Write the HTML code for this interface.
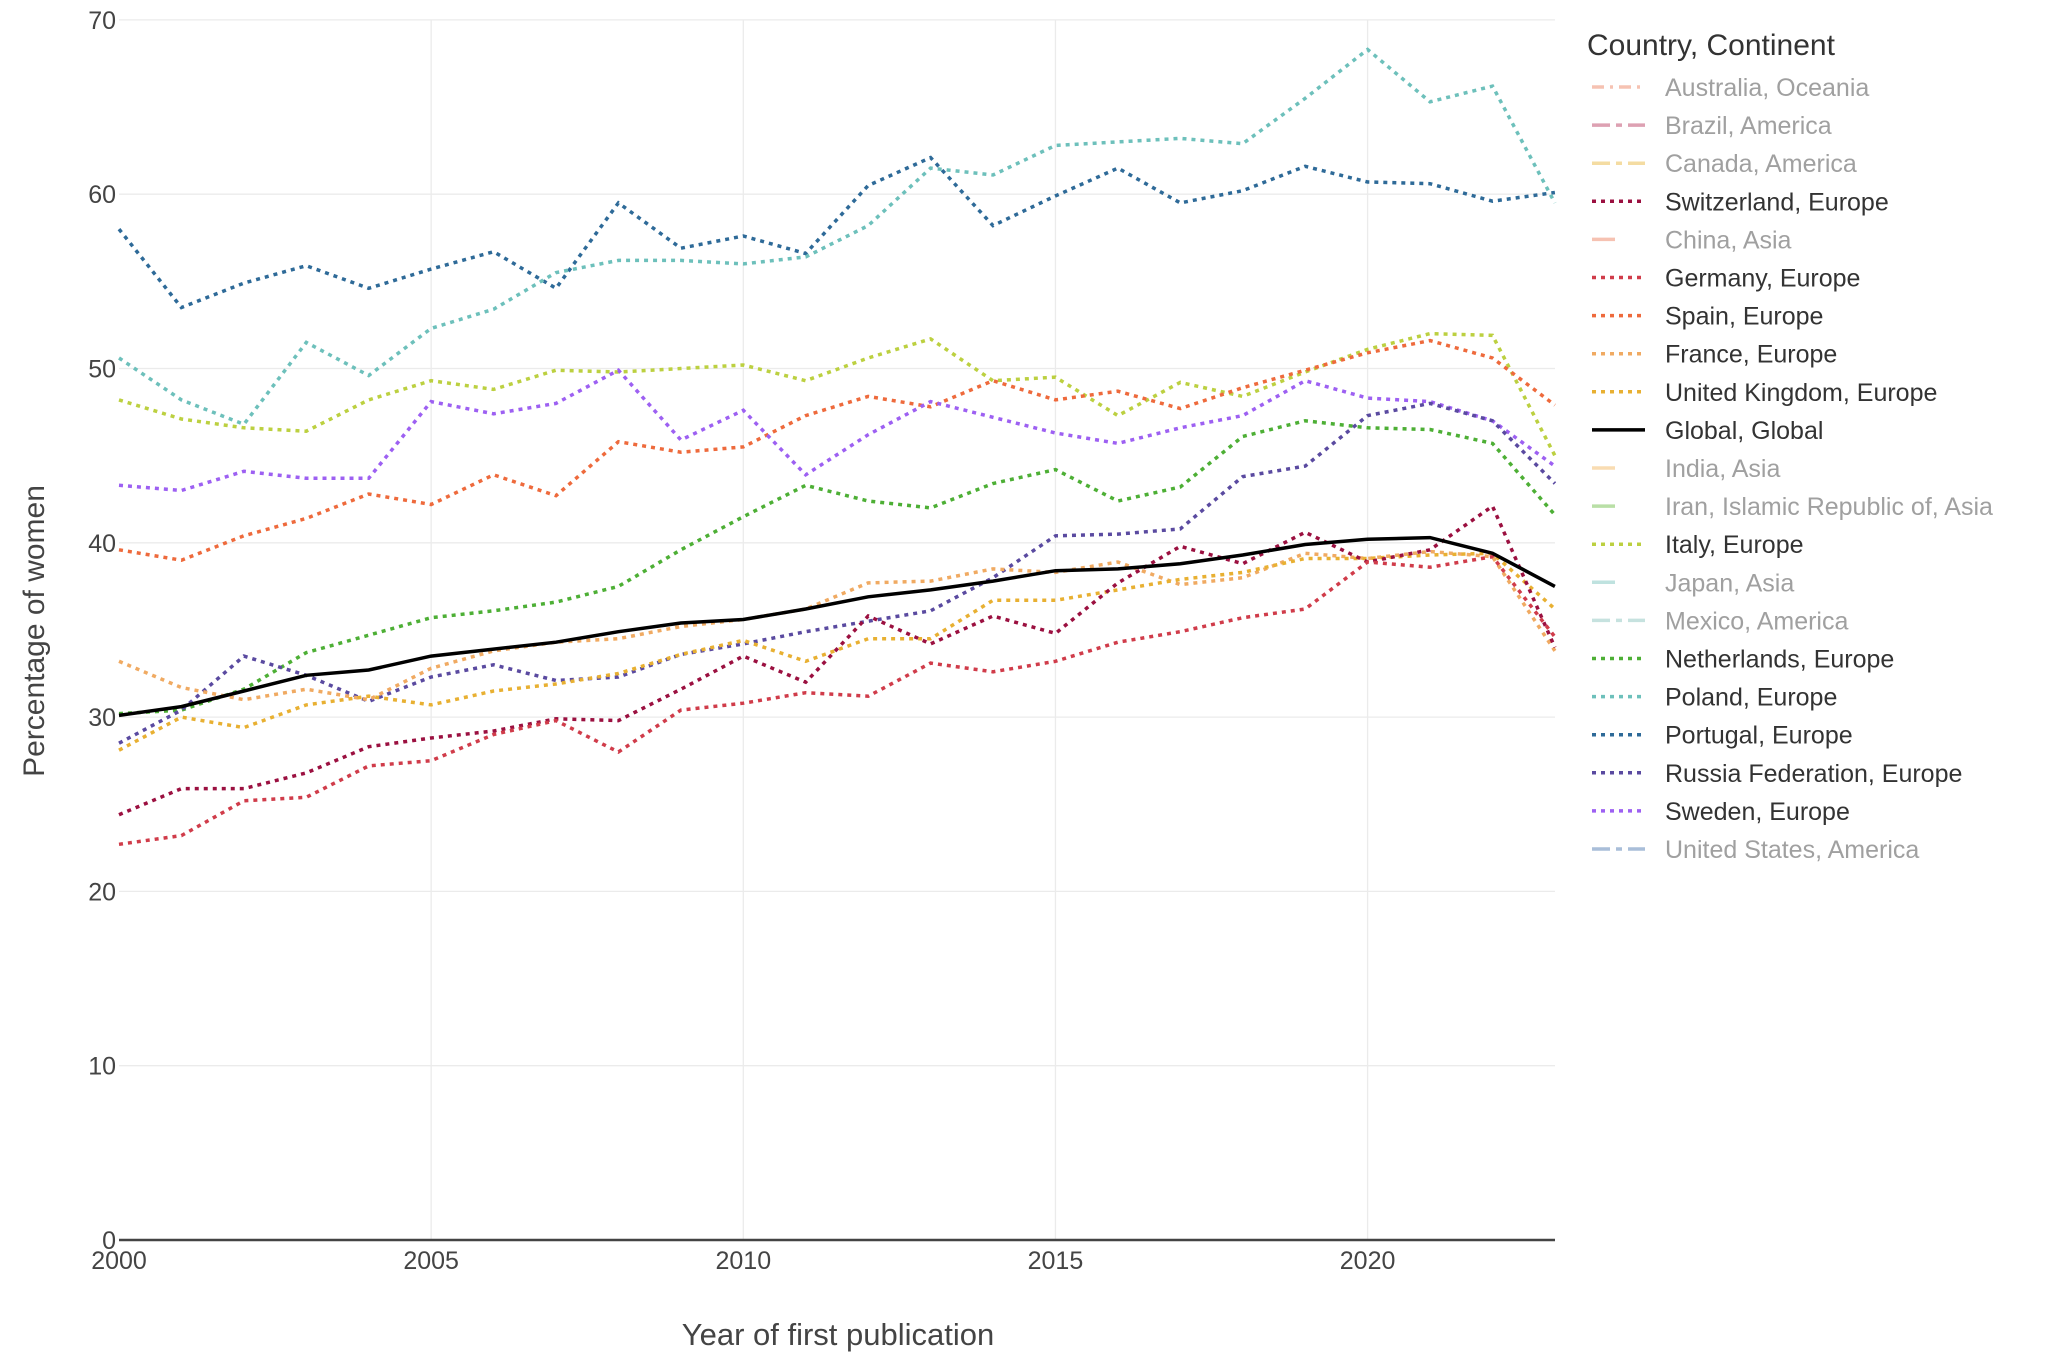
<!DOCTYPE html>
<html><head><meta charset="utf-8"><style>
body{margin:0;background:#fff;}
svg text{font-family:"Liberation Sans","DejaVu Sans",sans-serif;}
</style></head><body>
<svg id="s" width="2066" height="1358" xmlns="http://www.w3.org/2000/svg">
<g id="grid" stroke="#ebebeb" stroke-width="1.3"></g>
<g id="yt" font-size="25" fill="#444" text-anchor="end"></g>
<g id="xt" font-size="25" fill="#444" text-anchor="middle"></g>
<text x="838" y="1345" font-size="31" fill="#444" text-anchor="middle">Year of first publication</text>
<text transform="translate(44,631) rotate(-90)" font-size="30" fill="#444" text-anchor="middle">Percentage of women</text>
<g id="lines" fill="none"></g>
<line x1="119" y1="1240" x2="1555" y2="1240" stroke="#444" stroke-width="2.5"/>
<text x="1587" y="55" font-size="30" fill="#333">Country, Continent</text>
<g id="leg" font-size="25"></g>
</svg>
<script>
const X=y=>119+(y-2000)*62.43, Y=v=>1240-v*17.43;
let h='',yt='',xt='';
for(let v=10;v<=70;v+=10)h+=`<line x1="119" x2="1555" y1="${Y(v)}" y2="${Y(v)}"/>`;
for(let v=0;v<=70;v+=10)yt+=`<text x="116" y="${Y(v)+9}">${v}</text>`;
for(let y=2005;y<=2020;y+=5)h+=`<line y1="20" y2="1240" x1="${X(y)}" x2="${X(y)}"/>`;
for(let y=2000;y<=2020;y+=5)xt+=`<text x="${X(y)}" y="1269">${y}</text>`;
document.getElementById('grid').innerHTML=h;
document.getElementById('yt').innerHTML=yt;
document.getElementById('xt').innerHTML=xt;
const S=[
["Portugal","#2e6a98",[58,53.5,54.9,55.9,54.6,55.7,56.7,54.6,59.5,56.9,57.6,56.6,60.5,62.1,58.2,59.9,61.5,59.5,60.2,61.6,60.7,60.6,59.6,60.1]],
["Poland","#6dc0bb",[50.6,48.2,46.8,51.5,49.6,52.3,53.4,55.5,56.2,56.2,56.0,56.4,58.2,61.5,61.1,62.8,63.0,63.2,62.9,65.5,68.3,65.3,66.2,59.5]],
["Italy","#bcd040",[48.2,47.1,46.6,46.4,48.2,49.3,48.8,49.9,49.8,50.0,50.2,49.3,50.6,51.7,49.3,49.5,47.3,49.2,48.4,49.8,51.1,52.0,51.9,45.0]],
["Spain","#ee6a3c",[39.6,39.0,40.4,41.4,42.8,42.2,43.9,42.7,45.8,45.2,45.5,47.3,48.4,47.8,49.3,48.2,48.7,47.7,48.9,49.9,50.9,51.6,50.6,47.9]],
["Sweden","#9d60f2",[43.3,43.0,44.1,43.7,43.7,48.1,47.4,48.0,49.9,45.9,47.6,43.9,46.2,48.1,47.2,46.3,45.7,46.6,47.3,49.3,48.3,48.1,47.0,44.4]],
["Netherlands","#4daf35",[30.2,30.4,31.6,33.7,34.7,35.7,36.1,36.6,37.5,39.6,41.5,43.3,42.4,42.0,43.4,44.2,42.4,43.2,46.1,47.0,46.6,46.5,45.7,41.6]],
["Russia","#5a4aa0",[28.5,30.4,33.5,32.4,30.9,32.3,33.0,32.1,32.3,33.6,34.2,34.9,35.5,36.1,38.0,40.4,40.5,40.8,43.8,44.4,47.3,48.0,47.0,43.4]],
["France","#f0aa62",[33.2,31.7,31.0,31.6,31.0,32.8,33.8,34.3,34.5,35.2,35.6,36.2,37.7,37.8,38.5,38.3,38.9,37.6,38.0,39.4,39.1,39.5,39.2,33.8]],
["UK","#e8b032",[28.1,30.0,29.4,30.7,31.2,30.7,31.5,31.9,32.5,33.6,34.4,33.2,34.5,34.5,36.7,36.7,37.3,37.9,38.3,39.1,39.1,39.3,39.4,36.2]],
["Switzerland","#9b1040",[24.4,25.9,25.9,26.8,28.3,28.8,29.2,29.9,29.8,31.6,33.5,32.0,35.8,34.2,35.8,34.8,37.7,39.8,38.8,40.6,38.9,39.6,42.1,34.0]],
["Germany","#d03c4a",[22.7,23.2,25.2,25.4,27.2,27.5,29.0,29.8,28.0,30.4,30.8,31.4,31.2,33.1,32.6,33.2,34.3,34.9,35.7,36.2,38.9,38.6,39.2,34.6]],
["Global","#000",[30.1,30.6,31.5,32.4,32.7,33.5,33.9,34.3,34.9,35.4,35.6,36.2,36.9,37.3,37.8,38.4,38.5,38.8,39.3,39.9,40.2,40.3,39.4,37.5]]];
let l='';
for(const [n,c,d] of S){
 const p=d.map((v,i)=>(i?'L':'M')+X(2000+i).toFixed(1)+','+Y(v).toFixed(1)).join('');
 l+= n=="Global"?`<path d="${p}" stroke="#000" stroke-width="3.5"/>`:`<path d="${p}" stroke="${c}" stroke-width="3.5" stroke-dasharray="4,5"/>`;
}
document.getElementById('lines').innerHTML=l;
const L=[["Australia, Oceania","#f4b4a0",1,"12,6,3,6"],["Brazil, America","#d58aa0",1,"18,6,6,6"],["Canada, America","#f2d48c",1,"18,6,6,6"],["Switzerland, Europe","#9b1040",0,"4,5"],["China, Asia","#f4b4a0",1,""],["Germany, Europe","#d03c4a",0,"4,5"],["Spain, Europe","#ee6a3c",0,"4,5"],["France, Europe","#f0aa62",0,"4,5"],["United Kingdom, Europe","#e8b032",0,"4,5"],["Global, Global","#000",0,""],["India, Asia","#f8d4a0",1,""],["Iran, Islamic Republic of, Asia","#a8d890",1,""],["Italy, Europe","#bcd040",0,"4,5"],["Japan, Asia","#b0dcd8",1,""],["Mexico, America","#b8dcd8",1,"18,6,6,6"],["Netherlands, Europe","#4daf35",0,"4,5"],["Poland, Europe","#6dc0bb",0,"4,5"],["Portugal, Europe","#2e6a98",0,"4,5"],["Russia Federation, Europe","#5a4aa0",0,"4,5"],["Sweden, Europe","#9d60f2",0,"4,5"],["United States, America","#94aed0",1,"18,6,6,6"]];
let s='';
L.forEach(([t,c,f,da],i)=>{const y=87+i*38.1;
 const x2=(t=="China, Asia"||t=="India, Asia"||t.startsWith("Iran")||t=="Japan, Asia")?1615:1645;
 s+=`<line x1="1592" x2="${x2}" y1="${y}" y2="${y}" stroke="${c}" stroke-width="3.5" ${da?`stroke-dasharray="${da}"`:''} ${f?'opacity="0.8"':''}/>`;
 s+=`<text x="1665" y="${y+9}" fill="${f?'#a0a0a0':'#333'}">${t}</text>`;});
document.getElementById('leg').innerHTML=s;
</script>
</body></html>
